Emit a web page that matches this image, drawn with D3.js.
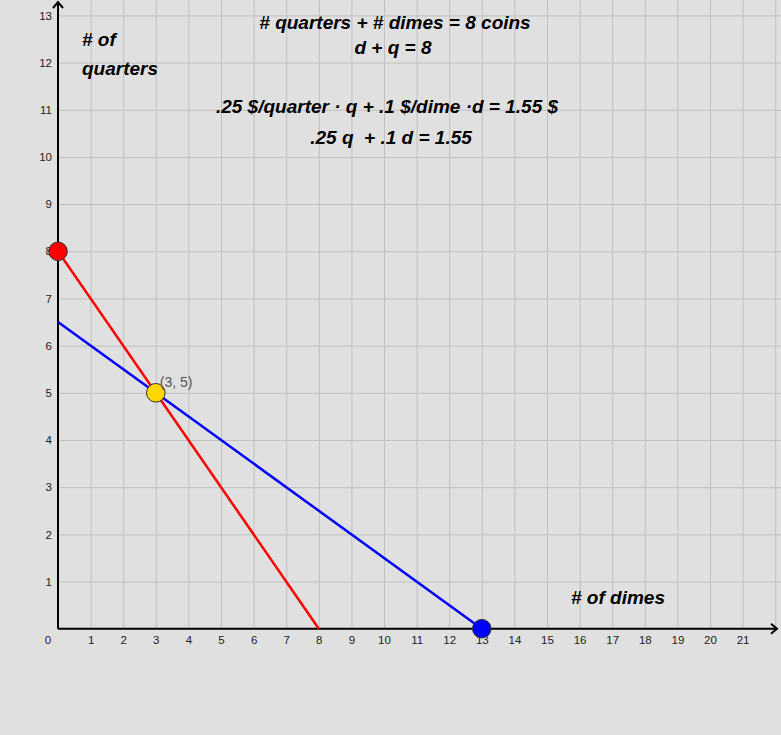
<!DOCTYPE html>
<html>
<head>
<meta charset="utf-8">
<script src="https://cdn.jsdelivr.net/npm/d3@7"></script>
<style>
  body { margin: 0; background: #e0e0e0; }
  svg { display: block; font-family: "Liberation Sans", Arial, sans-serif; }
  .tick text { fill: #222; font-size: 11.5px; font-family: "Liberation Sans", Arial, sans-serif; }
  .big { font-weight: bold; font-style: italic; font-size: 19px; fill: #000; }
</style>
</head>
<body>
<svg width="781" height="735"></svg>
<script>
// tick values
var xTicks = [1,2,3,4,5,6,7,8,9,10,11,12,13,14,15,16,17,18,19,20,21];
var yTicks = [1,2,3,4,5,6,7,8,9,10,11,12,13];
var xGrid = [1,2,3,4,5,6,7,8,9,10,11,12,13,14,15,16,17,18,19,20,21,22];

// lines: coins (red) and value (blue)
var coinLine = [{d: 0, q: 8}, {d: 8, q: 0}];
var valueLine = [{d: 0, q: 6.5}, {d: 13, q: 0}];

// points
var points = [
  {d: 0, q: 8, color: '#ff0000'},
  {d: 3, q: 5, color: '#ffd700', label: '(3, 5)'},
  {d: 13, q: 0, color: '#0000ff'}
];

var svg = d3.select('svg');
var W = +svg.attr('width');

var x = d3.scaleLinear().domain([0, 22]).range([58, 775.2]);
var y = d3.scaleLinear().domain([0, 13]).range([628.7, 15.4]);

svg.append('rect').attr('width', W).attr('height', 735).attr('fill', '#e0e0e0');

// grid
var gx = svg.append('g')
  .attr('transform', 'translate(0,' + y(0) + ')')
  .call(d3.axisBottom(x).tickValues(xGrid).tickSize(-y(0)).tickFormat(''));
gx.select('.domain').remove();
gx.selectAll('line').attr('stroke', '#c0c0c0').attr('stroke-width', 1);

var gy = svg.append('g')
  .attr('transform', 'translate(' + x(0) + ',0)')
  .call(d3.axisRight(y).tickValues(yTicks).tickSize(W - x(0)).tickFormat(''));
gy.select('.domain').remove();
gy.selectAll('line').attr('stroke', '#c0c0c0').attr('stroke-width', 1);

// tick labels
var ax = svg.append('g')
  .attr('transform', 'translate(0,' + y(0) + ')')
  .call(d3.axisBottom(x).tickValues(xTicks).tickSize(0).tickPadding(7));
ax.select('.domain').remove();

var ay = svg.append('g')
  .attr('transform', 'translate(' + x(0) + ',0)')
  .call(d3.axisLeft(y).tickValues(yTicks).tickSize(0).tickPadding(6));
ay.select('.domain').remove();

svg.append('text').attr('x', x(0) - 10).attr('y', y(0) + 15)
  .attr('text-anchor', 'middle').attr('font-size', 11.5).attr('fill', '#222').text('0');

// axes with arrows
var axisG = svg.append('g').attr('stroke', '#000').attr('fill', 'none').attr('stroke-width', 2);
axisG.append('line').attr('x1', x(0)).attr('y1', y(0)).attr('x2', 777).attr('y2', y(0));
axisG.append('path').attr('d', 'M771,' + (y(0) - 5) + 'L777,' + y(0) + 'L771,' + (y(0) + 5));
axisG.append('line').attr('x1', x(0)).attr('y1', y(0)).attr('x2', x(0)).attr('y2', 2);
axisG.append('path').attr('d', 'M' + (x(0) - 5) + ',8L' + x(0) + ',2L' + (x(0) + 5) + ',8');

// lines
var line = d3.line().x(function(d) { return x(d.d); }).y(function(d) { return y(d.q); });
svg.append('path').datum(coinLine).attr('d', line)
  .attr('fill', 'none').attr('stroke', '#ff0000').attr('stroke-width', 2.5);
svg.append('path').datum(valueLine).attr('d', line)
  .attr('fill', 'none').attr('stroke', '#0000ff').attr('stroke-width', 2.5);

// points
svg.selectAll('circle.pt')
  .data(points)
  .enter()
  .append('circle')
  .attr('class', 'pt')
  .attr('cx', function(d) { return x(d.d); })
  .attr('cy', function(d) { return y(d.q); })
  .attr('r', 9.3)
  .attr('fill', function(d) { return d.color; })
  .attr('stroke', '#333')
  .attr('stroke-width', 1);

svg.selectAll('text.ptlabel')
  .data(points.filter(function(d) { return d.label; }))
  .enter()
  .append('text')
  .attr('class', 'ptlabel')
  .attr('x', function(d) { return x(d.d) + 4; })
  .attr('y', function(d) { return y(d.q) - 6; })
  .attr('font-size', 14)
  .attr('fill', '#555')
  .text(function(d) { return d.label; });

// annotations
svg.append('text').attr('class', 'big').attr('x', 82).attr('y', 46).text('# of');
svg.append('text').attr('class', 'big').attr('x', 82).attr('y', 75).text('quarters');
svg.append('text').attr('class', 'big').attr('x', 395).attr('y', 29).attr('text-anchor', 'middle')
  .text('# quarters + # dimes = 8 coins');
svg.append('text').attr('class', 'big').attr('x', 393).attr('y', 54).attr('text-anchor', 'middle')
  .text('d + q = 8');
svg.append('text').attr('class', 'big').attr('x', 387).attr('y', 113).attr('text-anchor', 'middle')
  .text('.25 $/quarter \u00b7 q + .1 $/dime \u00b7d = 1.55 $');
svg.append('text').attr('class', 'big').attr('x', 391).attr('y', 144).attr('text-anchor', 'middle')
  .attr('xml:space', 'preserve').style('white-space', 'pre')
  .text('.25 q  + .1 d = 1.55');
svg.append('text').attr('class', 'big').attr('x', 571).attr('y', 604).text('# of dimes');
</script>
</body>
</html>
